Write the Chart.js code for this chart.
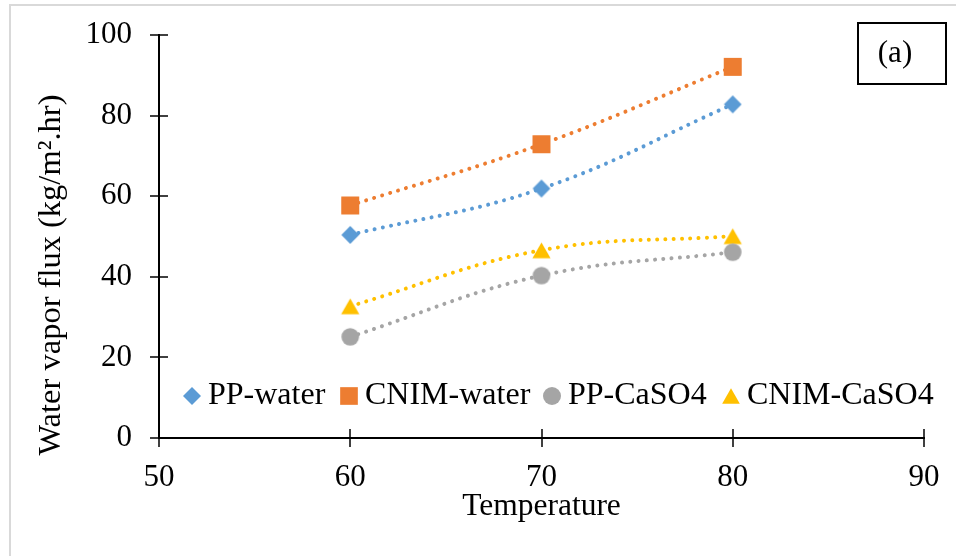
<!DOCTYPE html>
<html><head><meta charset="utf-8">
<script src="https://cdn.jsdelivr.net/npm/chart.js@4/dist/chart.umd.min.js"></script>
<style>html,body{margin:0;padding:0;background:#fff;}#wrap{position:relative;width:956px;height:556px;}</style>
</head><body><div id="wrap"><canvas id="c" width="956" height="556"></canvas></div>
<script>
// ---- data ----
const temperatures = [60, 70, 80];
const ppWater = [50.4, 61.9, 82.8];
const cnimWater = [57.7, 72.9, 92.1];
const ppCaSO4 = [25.1, 40.3, 46.1];
const cnimCaSO4 = [32.7, 46.6, 50.1];
const seriesNames = ['PP-water', 'CNIM-water', 'PP-CaSO4', 'CNIM-CaSO4'];
const xTickValues = [50, 60, 70, 80, 90];
const yTickValues = [0, 20, 40, 60, 80, 100];
const xTitle = 'Temperature';
const yTitle = 'Water vapor flux (kg/m\u00B2.hr)';
const panelLabel = '(a)';

// ---- styles ----
const FONT = 'Liberation Serif, Times New Roman, serif';
const colors = ['#5B9BD5', '#ED7D31', '#A5A5A5', '#FFC000'];
const styles = ['rectRot', 'rect', 'circle', 'triangle'];
const radii = [8.9, 12.7, 8.8, 10.5];
const seriesValues = [ppWater, cnimWater, ppCaSO4, cnimCaSO4];

function marker(ctx, style, r, x, y, color) {
  ctx.save();
  ctx.fillStyle = color;
  ctx.beginPath();
  if (style === 'rectRot') {
    ctx.moveTo(x, y - r); ctx.lineTo(x + r, y); ctx.lineTo(x, y + r); ctx.lineTo(x - r, y); ctx.closePath();
  } else if (style === 'rect') {
    const s = r * Math.SQRT1_2; ctx.rect(x - s, y - s, 2 * s, 2 * s);
  } else if (style === 'circle') {
    ctx.arc(x, y, r, 0, Math.PI * 2);
  } else {
    const w = r * Math.sin(Math.PI / 3);
    ctx.moveTo(x, y - r * 0.75); ctx.lineTo(x + w, y + r * 0.75); ctx.lineTo(x - w, y + r * 0.75); ctx.closePath();
  }
  ctx.fill();
  ctx.restore();
}

function markerCanvas(style, r, color) {
  const size = Math.ceil(2 * r + 4);
  const cv = document.createElement('canvas');
  cv.width = size; cv.height = size;
  marker(cv.getContext('2d'), style, r, size / 2, size / 2, color);
  return cv;
}

const datasets = seriesValues.map((vals, i) => ({
  label: seriesNames[i],
  data: temperatures.map((t, j) => ({x: t, y: vals[j]})),
  borderColor: colors[i],
  backgroundColor: colors[i],
  borderWidth: 4,
  borderDash: [0.01, 8.3],
  borderCapStyle: 'round',
  tension: 0.4,
  pointStyle: markerCanvas(styles[i], radii[i], colors[i]),
  pointRadius: radii[i],
  pointHoverRadius: radii[i],
  pointBorderWidth: 0,
  fill: false
}));

const decor = {
  id: 'decor',
  beforeDraw(chart) {
    const ctx = chart.ctx;
    ctx.save();
    ctx.fillStyle = '#fff';
    ctx.fillRect(0, 0, chart.width, chart.height);
    ctx.strokeStyle = '#D9D9D9';
    ctx.lineWidth = 2;
    ctx.strokeRect(10, 5, 2000, 2000);
    ctx.restore();
  },
  afterDraw(chart) {
    const ctx = chart.ctx;
    const xs = chart.scales.x, ys = chart.scales.y;
    ctx.save();
    // crossing tick marks
    ctx.strokeStyle = '#000';
    ctx.lineWidth = 1.5;
    ys.ticks.forEach((t, i) => {
      const p = Math.round(ys.getPixelForTick(i));
      ctx.beginPath(); ctx.moveTo(xs.left - 9, p); ctx.lineTo(xs.left + 9, p); ctx.stroke();
    });
    xs.ticks.forEach((t, i) => {
      const p = Math.round(xs.getPixelForTick(i));
      ctx.beginPath(); ctx.moveTo(p, ys.bottom - 9); ctx.lineTo(p, ys.bottom + 9); ctx.stroke();
    });
    // y-axis title
    ctx.fillStyle = '#000';
    ctx.font = '32.5px ' + FONT;
    ctx.textAlign = 'center';
    ctx.textBaseline = 'middle';
    ctx.save();
    ctx.translate(51, 275);
    ctx.rotate(-Math.PI / 2);
    ctx.fillText(yTitle, 0, 0);
    ctx.restore();
    // panel label box
    ctx.lineWidth = 2;
    ctx.strokeRect(858, 23, 88, 61);
    ctx.font = '31px ' + FONT;
    ctx.fillText(panelLabel, 895, 54);
    // legend
    const mx = [192, 349, 552, 731];
    const tx = [208, 365, 568, 747];
    const lr = [9, 12.5, 9, 10.2];
    const ly = 396;
    ctx.textAlign = 'left';
    ctx.font = '32px ' + FONT;
    seriesNames.forEach((n, i) => {
      marker(ctx, styles[i], lr[i], mx[i], ly, colors[i]);
      ctx.fillStyle = '#000';
      ctx.fillText(n, tx[i], ly);
    });
    ctx.restore();
  }
};

new Chart(document.getElementById('c'), {
  type: 'line',
  data: { datasets },
  plugins: [decor],
  options: {
    responsive: false,
    devicePixelRatio: 1,
    animation: false,
    layout: { padding: { left: 0, right: 32, top: 35, bottom: 0 } },
    plugins: { legend: { display: false }, tooltip: { enabled: false } },
    scales: {
      x: {
        type: 'linear', min: 50, max: 90,
        afterFit(s) { s.height = 118; s.paddingLeft = 0; s.paddingRight = 0; s.paddingTop = 0; s.paddingBottom = 0; },
        afterBuildTicks(s) { s.ticks = xTickValues.map(v => ({value: v})); },
        grid: { display: false },
        border: { display: true, color: '#000', width: 2 },
        ticks: { color: '#000', font: { family: FONT, size: 31 }, padding: 13, maxRotation: 0 },
        title: { display: true, text: xTitle, color: '#000', font: { family: FONT, size: 31.5 }, padding: { top: 0, bottom: 30 } }
      },
      y: {
        type: 'linear', min: 0, max: 100,
        afterFit(s) { s.width = 159; s.paddingLeft = 0; s.paddingRight = 0; s.paddingTop = 0; s.paddingBottom = 0; },
        afterBuildTicks(s) { s.ticks = yTickValues.map(v => ({value: v})); },
        grid: { display: false },
        border: { display: true, color: '#000', width: 2 },
        ticks: { color: '#000', font: { family: FONT, size: 31 }, padding: 19 }
      }
    }
  }
});
</script></body></html>
